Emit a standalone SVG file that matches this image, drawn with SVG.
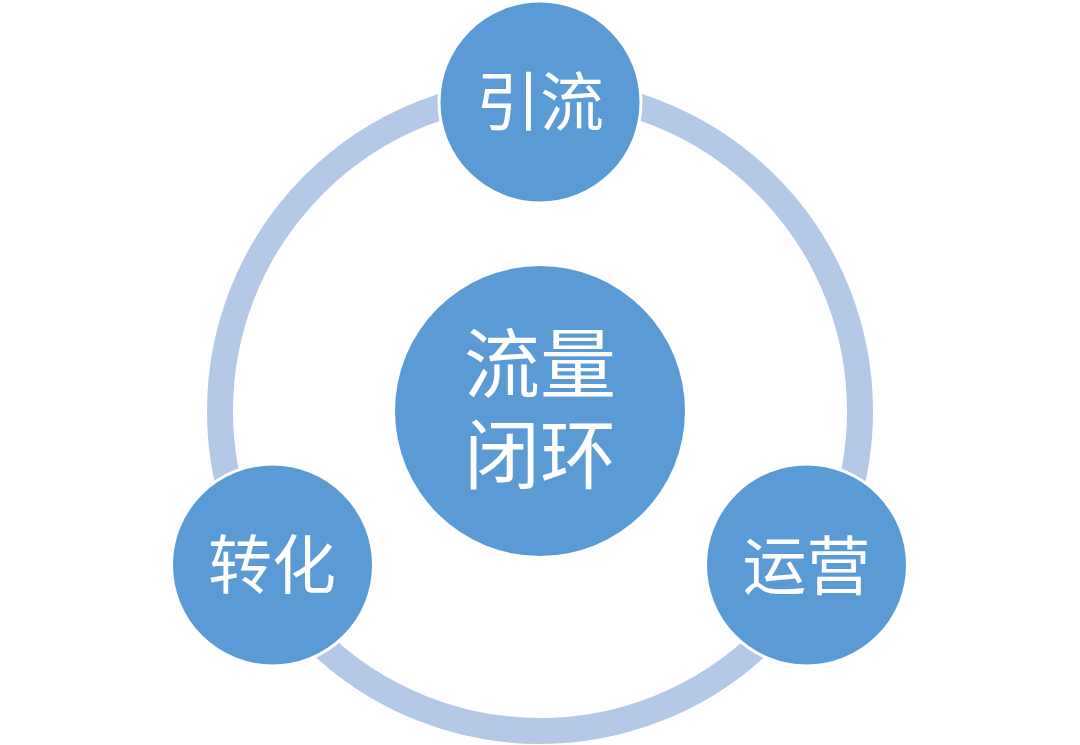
<svg xmlns="http://www.w3.org/2000/svg" width="1080" height="745" viewBox="0 0 1080 745">
<style>
.node{fill:#5B9BD5;stroke:#FFFFFF;stroke-width:3}
.lbl{fill:#FFFFFF;font-family:"Noto Sans CJK SC","Microsoft YaHei",sans-serif;text-anchor:middle}
.s{font-size:64px}
.b{font-size:76px}
</style>
<rect width="1080" height="745" fill="#FFFFFF"/>
<g id="connectors">
<circle cx="540" cy="411" r="320" fill="none" stroke="#B4C8E7" stroke-width="26"/>
</g>
<g id="center">
<circle cx="540" cy="411" r="145" fill="#5B9BD5"/>
<text class="lbl b"><tspan x="540" y="392">流量</tspan><tspan x="540" y="483">闭环</tspan></text>
</g>
<g id="yinliu">
<circle class="node" cx="540" cy="102" r="101"/>
<text class="lbl s" x="540" y="125">引流</text>
</g>
<g id="zhuanhua">
<circle class="node" cx="272.5" cy="565" r="101"/>
<text class="lbl s" x="272" y="588">转化</text>
</g>
<g id="yunying">
<circle class="node" cx="806.5" cy="565" r="101"/>
<text class="lbl s" x="806.5" y="589">运营</text>
</g>
</svg>
